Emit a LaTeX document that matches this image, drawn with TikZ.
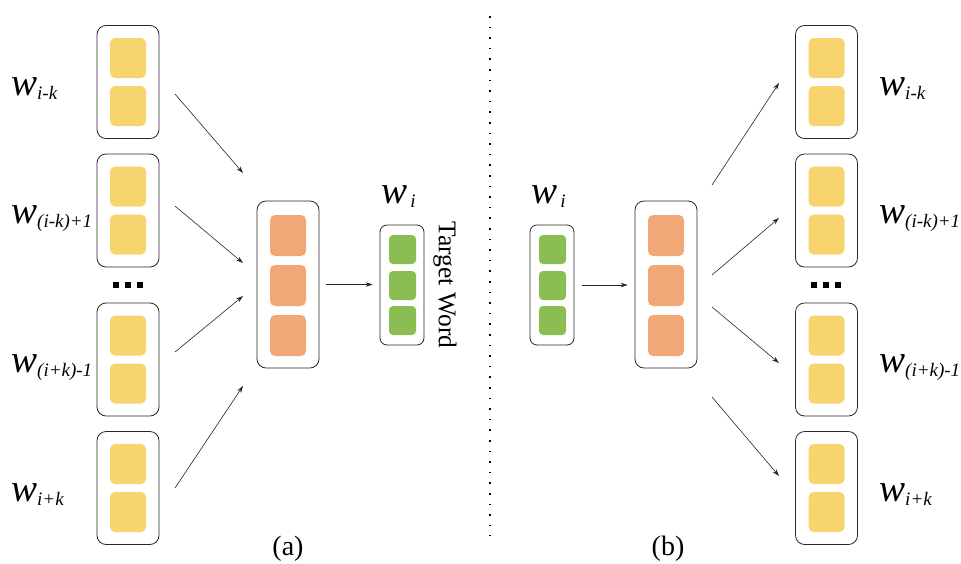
\documentclass[tikz,border=0pt]{standalone}
\usepackage{fontspec}
\setmainfont{Liberation Serif}
\usetikzlibrary{arrows.meta, positioning, calc}
\definecolor{cellyellow}{RGB}{247,212,110}
\definecolor{cellorange}{RGB}{241,168,118}
\definecolor{cellgreen}{RGB}{139,190,82}
\definecolor{boxline}{RGB}{40,40,40}
\newcommand{\wlab}[1]{{\fontsize{39}{41}\selectfont\itshape w}\raisebox{-4pt}{\fontsize{19}{20}\selectfont\itshape #1}}

\begin{document}
\begin{tikzpicture}[x=1pt, y=-1pt,
  wbox/.style={draw=boxline, line width=0.8pt, rounded corners=9pt, inner sep=0pt, minimum width=62pt, minimum height=113pt},
  hbox/.style={wbox, minimum height=167pt},
  tbox/.style={wbox, rounded corners=7pt, minimum width=44pt, minimum height=120pt},
  ycell/.style={fill=cellyellow, rounded corners=5pt, inner sep=0pt, minimum width=36pt, minimum height=40pt},
  ocell/.style={ycell, fill=cellorange, minimum height=41pt},
  gcell/.style={fill=cellgreen, rounded corners=4pt, inner sep=0pt, minimum width=27pt, minimum height=29pt},
  dotsq/.style={fill=black, inner sep=0pt, minimum size=6pt},
  arr/.style={-{Stealth[length=7pt, width=4.5pt]}, line width=0.6pt, draw=black!85},
  sep/.style={line width=1.6pt, dash pattern=on 1.6pt off 9pt},
  capt/.style={font=\fontsize{28}{30}\selectfont}
]
  \useasboundingbox (0,0) rectangle (961,563);

  % (a) context words -> hidden -> target word
  \foreach \y/\lab [count=\n] in {82/{i-k}, 210.5/{(i-k)+1}, 359.5/{(i+k)-1}, 488/{i+k}} {
    \node[wbox] (lin\n) at (128,\y) {};
    \node[ycell] (lin\n a) at ($(lin\n.center)+(0,-24)$) {};
    \node[ycell] (lin\n b) at ($(lin\n.center)+(0,24)$) {};
    \node[anchor=base west, inner sep=0pt] (llab\n) at (11,\y+13) {\wlab{\lab}};
  }
  \foreach \x [count=\n] in {116,128,140}
    \node[dotsq] (ldot\n) at (\x,285) {};

  \node[hbox] (lhid) at (288,284.5) {};
  \foreach \y [count=\n] in {235.5,285.5,335.5}
    \node[ocell] (lhid\n) at (288,\y) {};

  \node[tbox] (ltgt) at (402,285) {};
  \foreach \y [count=\n] in {249.5,285.5,320.5}
    \node[gcell] (ltgt\n) at (402.5,\y) {};
  \node[anchor=base west, inner sep=0pt] (ltgtlab) at (381,203) {\wlab{\,i}};
  \node[rotate=-90, font=\fontsize{25.5}{27}\selectfont] (tword) at (445,285) {Target Word};

  \foreach \sy/\ey [count=\n] in {94/173, 206/263, 352/296, 488/386} {
    \coordinate (ls\n) at (175,\sy);
    \coordinate (le\n) at (243,\ey);
    \draw[arr] (ls\n) -- (le\n);
  }
  \draw[arr, shorten <=7pt, shorten >=7pt] (lhid.east) -- (lhid.east -| ltgt.west);

  % divider
  \draw[sep] (490,16) -- (490,536);

  % (b) target word -> hidden -> context words
  \node[tbox] (rin) at (552,285) {};
  \foreach \y [count=\n] in {249.5,285.5,320.5}
    \node[gcell] (rin\n) at (552.5,\y) {};
  \node[anchor=base west, inner sep=0pt] (rinlab) at (531,203) {\wlab{\,i}};

  \node[hbox] (rhid) at (666,284.5) {};
  \foreach \y [count=\n] in {235.5,285.5,335.5}
    \node[ocell] (rhid\n) at (666,\y) {};
  \draw[arr, shorten <=8pt, shorten >=7pt] (rin.east) -- (rin.east -| rhid.west);

  \foreach \y/\lab [count=\n] in {82/{i-k}, 210.5/{(i-k)+1}, 359.5/{(i+k)-1}, 488/{i+k}} {
    \node[wbox] (rout\n) at (826.5,\y) {};
    \node[ycell] (rout\n a) at ($(rout\n.center)+(0,-24)$) {};
    \node[ycell] (rout\n b) at ($(rout\n.center)+(0,24)$) {};
    \node[anchor=base west, inner sep=0pt] (rlab\n) at (879,\y+13) {\wlab{\lab}};
  }
  \foreach \x [count=\n] in {814,826,838}
    \node[dotsq] (rdot\n) at (\x,285) {};

  \foreach \sy/\ey [count=\n] in {185/83, 275/218, 307/363, 397/476} {
    \coordinate (rs\n) at (712,\sy);
    \coordinate (re\n) at (779,\ey);
    \draw[arr] (rs\n) -- (re\n);
  }

  \node[capt] (capa) at (288,549) {(a)};
  \node[capt] (capb) at (668,549) {(b)};
\end{tikzpicture}
\end{document}
